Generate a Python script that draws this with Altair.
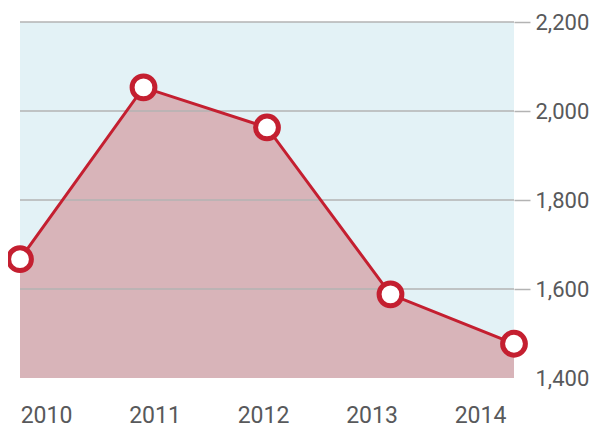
import altair as alt
import pandas as pd

years = [2010, 2011, 2012, 2013, 2014]
values = [1667, 2053, 1963, 1588, 1477]
grid_values = [1600, 1800, 2000, 2200]
y_ticks = [1400, 1600, 1800, 2000, 2200]

df = pd.DataFrame({"year": years, "value": values})
grid_df = pd.DataFrame({"value": grid_values})

FONT = "Roboto"
TEXT = "#58595b"
RED = "#c41f30"
PINK = "#d8b4b9"
BLUE = "#e3f2f6"
GRID = "#b3b3b3"

xs = alt.X("year:Q", scale=alt.Scale(domain=[2010, 2014], nice=False, zero=False), axis=None)
ys = alt.Y(
    "value:Q",
    scale=alt.Scale(domain=[1400, 2200], nice=False, zero=False, clamp=True),
    axis=alt.Axis(
        orient="right", values=y_ticks, format=",.0f", grid=False, domain=False,
        tickSize=16, tickColor=GRID, tickWidth=1.5,
        tickOpacity={"condition": {"test": "datum.value <= 1400", "value": 0}, "value": 1},
        labelFontSize=22, labelFont=FONT, labelColor=TEXT, labelPadding=5, title=None,
    ),
)

area = alt.Chart(df).mark_area(color=PINK, opacity=1).encode(x=xs, y=ys)
grid = alt.Chart(grid_df).mark_rule(color=GRID, strokeWidth=1.5).encode(y=ys)
line = alt.Chart(df).mark_line(color=RED, strokeWidth=3).encode(x=xs, y=ys)
points = alt.Chart(df).mark_point(
    shape="circle", filled=True, fill="white", stroke=RED, strokeWidth=5, size=520, opacity=1
).encode(x=xs, y=ys)

labels = alt.Chart(df).mark_point(opacity=0).encode(
    x=alt.X(
        "year:Q",
        scale=alt.Scale(domain=[2009.7604, 2014.3134], nice=False, zero=False),
        axis=alt.Axis(
            orient="bottom", values=years, format="d", grid=False, domain=False, ticks=False,
            labelFontSize=23, labelFont=FONT, labelColor=TEXT, labelPadding=26,
            labelFlush=False, title=None,
        ),
    )
)

chart = (
    alt.layer(area, grid, line, points, labels)
    .resolve_scale(x="independent")
    .properties(
        width=494, height=356,
        autosize=alt.AutoSizeParams(type="none"),
        padding={"left": 12, "top": 14, "right": 76, "bottom": 49},
        background="white",
    )
    .configure_view(fill=BLUE, strokeWidth=0)
)

chart.save("out.html", embed_options={"renderer": "svg", "actions": False})
